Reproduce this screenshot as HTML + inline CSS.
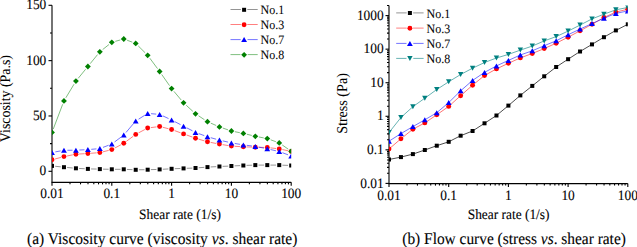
<!DOCTYPE html>
<html><head><meta charset="utf-8"><title>Viscosity and flow curves</title><style>
html,body{margin:0;padding:0;background:#fff;width:637px;height:247px;overflow:hidden}
</style></head><body>
<svg width="637" height="247" viewBox="0 0 637 247" style="display:block;font-family:'Liberation Serif',serif;text-rendering:geometricPrecision">
<defs>
<style>text{fill:#000;stroke:#000;stroke-width:0.1px;paint-order:stroke}</style>
<clipPath id="cl"><rect x="52.0" y="0" width="239.20000000000005" height="182.35"/></clipPath>
<clipPath id="cr"><rect x="389.0" y="5.497433345516788" width="238.79999999999995" height="178.1025666544832"/></clipPath>
</defs>
<line x1="52.0" y1="5.30" x2="52.0" y2="182.35" stroke="#000" stroke-width="1.1"/>
<line x1="51.5" y1="182.35" x2="291.20" y2="182.35" stroke="#000" stroke-width="1.1"/>
<line x1="48.5" y1="171.30" x2="52.0" y2="171.30" stroke="#000" stroke-width="1.1"/>
<text transform="translate(46.30,175.45) scale(1,1.065)" font-size="13.4" text-anchor="end">0</text>
<line x1="48.5" y1="115.97" x2="52.0" y2="115.97" stroke="#000" stroke-width="1.1"/>
<text transform="translate(46.30,120.12) scale(1,1.065)" font-size="13.4" text-anchor="end">50</text>
<line x1="48.5" y1="60.63" x2="52.0" y2="60.63" stroke="#000" stroke-width="1.1"/>
<text transform="translate(46.30,64.78) scale(1,1.065)" font-size="13.4" text-anchor="end">100</text>
<line x1="48.5" y1="5.30" x2="52.0" y2="5.30" stroke="#000" stroke-width="1.1"/>
<text transform="translate(46.30,9.45) scale(1,1.065)" font-size="13.4" text-anchor="end">150</text>
<line x1="50.0" y1="143.63" x2="52.0" y2="143.63" stroke="#000" stroke-width="1.1"/>
<line x1="50.0" y1="88.30" x2="52.0" y2="88.30" stroke="#000" stroke-width="1.1"/>
<line x1="50.0" y1="32.96" x2="52.0" y2="32.96" stroke="#000" stroke-width="1.1"/>
<line x1="52.00" y1="182.35" x2="52.00" y2="185.85" stroke="#000" stroke-width="1.1"/>
<line x1="70.00" y1="182.35" x2="70.00" y2="184.35" stroke="#000" stroke-width="1.1"/>
<line x1="80.53" y1="182.35" x2="80.53" y2="184.35" stroke="#000" stroke-width="1.1"/>
<line x1="88.00" y1="182.35" x2="88.00" y2="184.35" stroke="#000" stroke-width="1.1"/>
<line x1="93.80" y1="182.35" x2="93.80" y2="184.35" stroke="#000" stroke-width="1.1"/>
<line x1="98.53" y1="182.35" x2="98.53" y2="184.35" stroke="#000" stroke-width="1.1"/>
<line x1="102.54" y1="182.35" x2="102.54" y2="184.35" stroke="#000" stroke-width="1.1"/>
<line x1="106.00" y1="182.35" x2="106.00" y2="184.35" stroke="#000" stroke-width="1.1"/>
<line x1="109.06" y1="182.35" x2="109.06" y2="184.35" stroke="#000" stroke-width="1.1"/>
<line x1="111.80" y1="182.35" x2="111.80" y2="185.85" stroke="#000" stroke-width="1.1"/>
<line x1="129.80" y1="182.35" x2="129.80" y2="184.35" stroke="#000" stroke-width="1.1"/>
<line x1="140.33" y1="182.35" x2="140.33" y2="184.35" stroke="#000" stroke-width="1.1"/>
<line x1="147.80" y1="182.35" x2="147.80" y2="184.35" stroke="#000" stroke-width="1.1"/>
<line x1="153.60" y1="182.35" x2="153.60" y2="184.35" stroke="#000" stroke-width="1.1"/>
<line x1="158.33" y1="182.35" x2="158.33" y2="184.35" stroke="#000" stroke-width="1.1"/>
<line x1="162.34" y1="182.35" x2="162.34" y2="184.35" stroke="#000" stroke-width="1.1"/>
<line x1="165.80" y1="182.35" x2="165.80" y2="184.35" stroke="#000" stroke-width="1.1"/>
<line x1="168.86" y1="182.35" x2="168.86" y2="184.35" stroke="#000" stroke-width="1.1"/>
<line x1="171.60" y1="182.35" x2="171.60" y2="185.85" stroke="#000" stroke-width="1.1"/>
<line x1="189.60" y1="182.35" x2="189.60" y2="184.35" stroke="#000" stroke-width="1.1"/>
<line x1="200.13" y1="182.35" x2="200.13" y2="184.35" stroke="#000" stroke-width="1.1"/>
<line x1="207.60" y1="182.35" x2="207.60" y2="184.35" stroke="#000" stroke-width="1.1"/>
<line x1="213.40" y1="182.35" x2="213.40" y2="184.35" stroke="#000" stroke-width="1.1"/>
<line x1="218.13" y1="182.35" x2="218.13" y2="184.35" stroke="#000" stroke-width="1.1"/>
<line x1="222.14" y1="182.35" x2="222.14" y2="184.35" stroke="#000" stroke-width="1.1"/>
<line x1="225.60" y1="182.35" x2="225.60" y2="184.35" stroke="#000" stroke-width="1.1"/>
<line x1="228.66" y1="182.35" x2="228.66" y2="184.35" stroke="#000" stroke-width="1.1"/>
<line x1="231.40" y1="182.35" x2="231.40" y2="185.85" stroke="#000" stroke-width="1.1"/>
<line x1="249.40" y1="182.35" x2="249.40" y2="184.35" stroke="#000" stroke-width="1.1"/>
<line x1="259.93" y1="182.35" x2="259.93" y2="184.35" stroke="#000" stroke-width="1.1"/>
<line x1="267.40" y1="182.35" x2="267.40" y2="184.35" stroke="#000" stroke-width="1.1"/>
<line x1="273.20" y1="182.35" x2="273.20" y2="184.35" stroke="#000" stroke-width="1.1"/>
<line x1="277.93" y1="182.35" x2="277.93" y2="184.35" stroke="#000" stroke-width="1.1"/>
<line x1="281.94" y1="182.35" x2="281.94" y2="184.35" stroke="#000" stroke-width="1.1"/>
<line x1="285.40" y1="182.35" x2="285.40" y2="184.35" stroke="#000" stroke-width="1.1"/>
<line x1="288.46" y1="182.35" x2="288.46" y2="184.35" stroke="#000" stroke-width="1.1"/>
<line x1="291.20" y1="182.35" x2="291.20" y2="185.85" stroke="#000" stroke-width="1.1"/>
<text transform="translate(52.00,198.30) scale(1,1.065)" font-size="13.4" text-anchor="middle">0.01</text>
<text transform="translate(111.80,198.30) scale(1,1.065)" font-size="13.4" text-anchor="middle">0.1</text>
<text transform="translate(171.60,198.30) scale(1,1.065)" font-size="13.4" text-anchor="middle">1</text>
<text transform="translate(231.40,198.30) scale(1,1.065)" font-size="13.4" text-anchor="middle">10</text>
<text transform="translate(291.20,198.30) scale(1,1.065)" font-size="13.4" text-anchor="middle">100</text>
<text transform="translate(180.00,218.50) scale(1,1.065)" font-size="13.4" text-anchor="middle">Shear rate (1/s)</text>
<text transform="translate(10.00,98.60) rotate(-90) scale(1,1.065)" font-size="13.9" text-anchor="middle" style="stroke-width:0.05px">Viscosity (Pa.s)</text>
<g clip-path="url(#cl)">
<path d="M55.18,166.25L60.78,166.85M67.15,167.49L72.73,168.01M79.12,168.46L84.68,168.74M91.08,168.95L96.64,169.05M103.04,169.15L108.60,169.25M115.00,169.30L120.56,169.30M126.96,169.43L132.52,169.67M138.92,169.77L144.48,169.73M150.88,169.62L156.44,169.48M162.84,169.24L168.40,168.96M174.80,168.69L180.36,168.51M186.76,168.29L192.32,168.11M198.71,167.76L204.29,167.34M210.68,166.94L216.24,166.66M222.64,166.37L228.20,166.13M234.60,165.87L240.16,165.63M246.56,165.39L252.12,165.21M258.52,165.10L264.08,165.10M270.48,165.10L276.04,165.10M282.44,165.21L288.00,165.39" fill="none" stroke="#000" stroke-opacity="0.42" stroke-width="1"/>
<rect x="50.00" y="163.90" width="4.0" height="4.0" fill="#000"/>
<rect x="61.96" y="165.20" width="4.0" height="4.0" fill="#000"/>
<rect x="73.92" y="166.30" width="4.0" height="4.0" fill="#000"/>
<rect x="85.88" y="166.90" width="4.0" height="4.0" fill="#000"/>
<rect x="97.84" y="167.10" width="4.0" height="4.0" fill="#000"/>
<rect x="109.80" y="167.30" width="4.0" height="4.0" fill="#000"/>
<rect x="121.76" y="167.30" width="4.0" height="4.0" fill="#000"/>
<rect x="133.72" y="167.80" width="4.0" height="4.0" fill="#000"/>
<rect x="145.68" y="167.70" width="4.0" height="4.0" fill="#000"/>
<rect x="157.64" y="167.40" width="4.0" height="4.0" fill="#000"/>
<rect x="169.60" y="166.80" width="4.0" height="4.0" fill="#000"/>
<rect x="181.56" y="166.40" width="4.0" height="4.0" fill="#000"/>
<rect x="193.52" y="166.00" width="4.0" height="4.0" fill="#000"/>
<rect x="205.48" y="165.10" width="4.0" height="4.0" fill="#000"/>
<rect x="217.44" y="164.50" width="4.0" height="4.0" fill="#000"/>
<rect x="229.40" y="164.00" width="4.0" height="4.0" fill="#000"/>
<rect x="241.36" y="163.50" width="4.0" height="4.0" fill="#000"/>
<rect x="253.32" y="163.10" width="4.0" height="4.0" fill="#000"/>
<rect x="265.28" y="163.10" width="4.0" height="4.0" fill="#000"/>
<rect x="277.24" y="163.10" width="4.0" height="4.0" fill="#000"/>
<rect x="289.20" y="163.50" width="4.0" height="4.0" fill="#000"/>
</g>
<g clip-path="url(#cl)">
<path d="M55.09,158.97L60.87,157.43M67.10,155.97L72.78,154.83M79.11,154.01L84.69,153.69M91.07,153.26L96.65,152.84M102.94,151.82L108.70,150.38M114.63,148.11L120.93,144.79M126.33,141.39L133.15,136.31M138.54,132.89L144.86,129.51M150.86,127.60L156.46,126.90M162.74,127.28L168.50,128.72M174.60,130.60L180.56,132.80M186.57,134.98L192.51,137.12M198.58,139.12L204.42,140.88M210.62,142.40L216.30,143.50M222.60,144.63L228.24,145.57M234.59,146.29L240.17,146.61M246.56,146.91L252.12,147.09M258.52,147.28L264.08,147.42M270.46,147.87L276.06,148.53M282.37,149.55L288.07,150.75" fill="none" stroke="#ff0000" stroke-opacity="0.5" stroke-width="1"/>
<circle cx="52.00" cy="159.80" r="2.45" fill="#ff0000"/>
<circle cx="63.96" cy="156.60" r="2.45" fill="#ff0000"/>
<circle cx="75.92" cy="154.20" r="2.45" fill="#ff0000"/>
<circle cx="87.88" cy="153.50" r="2.45" fill="#ff0000"/>
<circle cx="99.84" cy="152.60" r="2.45" fill="#ff0000"/>
<circle cx="111.80" cy="149.60" r="2.45" fill="#ff0000"/>
<circle cx="123.76" cy="143.30" r="2.45" fill="#ff0000"/>
<circle cx="135.72" cy="134.40" r="2.45" fill="#ff0000"/>
<circle cx="147.68" cy="128.00" r="2.45" fill="#ff0000"/>
<circle cx="159.64" cy="126.50" r="2.45" fill="#ff0000"/>
<circle cx="171.60" cy="129.50" r="2.45" fill="#ff0000"/>
<circle cx="183.56" cy="133.90" r="2.45" fill="#ff0000"/>
<circle cx="195.52" cy="138.20" r="2.45" fill="#ff0000"/>
<circle cx="207.48" cy="141.80" r="2.45" fill="#ff0000"/>
<circle cx="219.44" cy="144.10" r="2.45" fill="#ff0000"/>
<circle cx="231.40" cy="146.10" r="2.45" fill="#ff0000"/>
<circle cx="243.36" cy="146.80" r="2.45" fill="#ff0000"/>
<circle cx="255.32" cy="147.20" r="2.45" fill="#ff0000"/>
<circle cx="267.28" cy="147.50" r="2.45" fill="#ff0000"/>
<circle cx="279.24" cy="148.90" r="2.45" fill="#ff0000"/>
<circle cx="291.20" cy="151.40" r="2.45" fill="#ff0000"/>
</g>
<g clip-path="url(#cl)">
<path d="M55.34,151.88L60.62,150.92M67.36,150.27L72.52,150.23M79.32,150.03L84.48,149.77M91.27,149.32L96.45,148.88M103.01,147.38L108.63,145.22M114.53,141.97L121.03,137.13M125.96,132.51L133.52,123.59M138.59,119.18L144.81,115.22M151.07,113.68L156.25,114.12M162.72,115.84L168.52,118.56M174.62,121.56L180.54,124.64M186.58,127.76L192.50,130.84M198.71,133.57L204.29,135.63M210.76,137.70L216.16,139.20M222.75,140.88L228.09,142.12M234.75,143.46L240.01,144.34M246.73,145.32L251.95,145.98M258.65,147.07L263.95,148.13M270.60,149.55L275.92,150.75M282.42,152.70L288.02,154.80" fill="none" stroke="#0000ff" stroke-opacity="0.55" stroke-width="1"/>
<path d="M52.00,150.00L54.90,155.00L49.10,155.00Z" fill="#0000ff"/>
<path d="M63.96,147.80L66.86,152.80L61.06,152.80Z" fill="#0000ff"/>
<path d="M75.92,147.70L78.82,152.70L73.02,152.70Z" fill="#0000ff"/>
<path d="M87.88,147.10L90.78,152.10L84.98,152.10Z" fill="#0000ff"/>
<path d="M99.84,146.10L102.74,151.10L96.94,151.10Z" fill="#0000ff"/>
<path d="M111.80,141.50L114.70,146.50L108.90,146.50Z" fill="#0000ff"/>
<path d="M123.76,132.60L126.66,137.60L120.86,137.60Z" fill="#0000ff"/>
<path d="M135.72,118.50L138.62,123.50L132.82,123.50Z" fill="#0000ff"/>
<path d="M147.68,110.90L150.58,115.90L144.78,115.90Z" fill="#0000ff"/>
<path d="M159.64,111.90L162.54,116.90L156.74,116.90Z" fill="#0000ff"/>
<path d="M171.60,117.50L174.50,122.50L168.70,122.50Z" fill="#0000ff"/>
<path d="M183.56,123.70L186.46,128.70L180.66,128.70Z" fill="#0000ff"/>
<path d="M195.52,129.90L198.42,134.90L192.62,134.90Z" fill="#0000ff"/>
<path d="M207.48,134.30L210.38,139.30L204.58,139.30Z" fill="#0000ff"/>
<path d="M219.44,137.60L222.34,142.60L216.54,142.60Z" fill="#0000ff"/>
<path d="M231.40,140.40L234.30,145.40L228.50,145.40Z" fill="#0000ff"/>
<path d="M243.36,142.40L246.26,147.40L240.46,147.40Z" fill="#0000ff"/>
<path d="M255.32,143.90L258.22,148.90L252.42,148.90Z" fill="#0000ff"/>
<path d="M267.28,146.30L270.18,151.30L264.38,151.30Z" fill="#0000ff"/>
<path d="M279.24,149.00L282.14,154.00L276.34,154.00Z" fill="#0000ff"/>
<path d="M291.20,153.50L294.10,158.50L288.30,158.50Z" fill="#0000ff"/>
</g>
<g clip-path="url(#cl)">
<path d="M53.28,129.03L62.68,104.27M65.82,97.82L74.06,84.18M78.20,78.32L85.60,69.28M90.15,63.71L97.57,54.59M102.66,49.56L108.98,44.54M115.27,41.34L120.29,39.96M127.14,40.24L132.34,42.16M138.27,45.94L145.13,52.76M149.82,58.20L157.50,68.60M161.70,74.45L169.54,85.65M173.92,91.35L181.24,100.05M186.21,105.24L192.87,111.36M198.52,115.78L204.48,119.72M210.78,123.14L216.14,125.46M222.85,128.07L227.99,129.83M234.93,131.71L239.83,132.69M246.86,134.25L251.82,135.45M258.86,136.98L263.74,137.92M270.67,139.82L275.85,141.68M282.20,144.95L288.24,149.15" fill="none" stroke="#008000" stroke-opacity="0.5" stroke-width="1"/>
<path d="M52.00,129.50L54.90,132.40L52.00,135.30L49.10,132.40Z" fill="#008000"/>
<path d="M63.96,98.00L66.86,100.90L63.96,103.80L61.06,100.90Z" fill="#008000"/>
<path d="M75.92,78.20L78.82,81.10L75.92,84.00L73.02,81.10Z" fill="#008000"/>
<path d="M87.88,63.60L90.78,66.50L87.88,69.40L84.98,66.50Z" fill="#008000"/>
<path d="M99.84,48.90L102.74,51.80L99.84,54.70L96.94,51.80Z" fill="#008000"/>
<path d="M111.80,39.40L114.70,42.30L111.80,45.20L108.90,42.30Z" fill="#008000"/>
<path d="M123.76,36.10L126.66,39.00L123.76,41.90L120.86,39.00Z" fill="#008000"/>
<path d="M135.72,40.50L138.62,43.40L135.72,46.30L132.82,43.40Z" fill="#008000"/>
<path d="M147.68,52.40L150.58,55.30L147.68,58.20L144.78,55.30Z" fill="#008000"/>
<path d="M159.64,68.60L162.54,71.50L159.64,74.40L156.74,71.50Z" fill="#008000"/>
<path d="M171.60,85.70L174.50,88.60L171.60,91.50L168.70,88.60Z" fill="#008000"/>
<path d="M183.56,99.90L186.46,102.80L183.56,105.70L180.66,102.80Z" fill="#008000"/>
<path d="M195.52,110.90L198.42,113.80L195.52,116.70L192.62,113.80Z" fill="#008000"/>
<path d="M207.48,118.80L210.38,121.70L207.48,124.60L204.58,121.70Z" fill="#008000"/>
<path d="M219.44,124.00L222.34,126.90L219.44,129.80L216.54,126.90Z" fill="#008000"/>
<path d="M231.40,128.10L234.30,131.00L231.40,133.90L228.50,131.00Z" fill="#008000"/>
<path d="M243.36,130.50L246.26,133.40L243.36,136.30L240.46,133.40Z" fill="#008000"/>
<path d="M255.32,133.40L258.22,136.30L255.32,139.20L252.42,136.30Z" fill="#008000"/>
<path d="M267.28,135.70L270.18,138.60L267.28,141.50L264.38,138.60Z" fill="#008000"/>
<path d="M279.24,140.00L282.14,142.90L279.24,145.80L276.34,142.90Z" fill="#008000"/>
<path d="M291.20,148.30L294.10,151.20L291.20,154.10L288.30,151.20Z" fill="#008000"/>
</g>
<line x1="389.0" y1="5.50" x2="389.0" y2="183.6" stroke="#000" stroke-width="1.1"/>
<line x1="388.5" y1="183.6" x2="627.80" y2="183.6" stroke="#000" stroke-width="1.1"/>
<line x1="385.5" y1="183.40" x2="389.0" y2="183.40" stroke="#000" stroke-width="1.1"/>
<line x1="387.0" y1="173.30" x2="389.0" y2="173.30" stroke="#000" stroke-width="1.1"/>
<line x1="387.0" y1="167.39" x2="389.0" y2="167.39" stroke="#000" stroke-width="1.1"/>
<line x1="387.0" y1="163.19" x2="389.0" y2="163.19" stroke="#000" stroke-width="1.1"/>
<line x1="387.0" y1="159.94" x2="389.0" y2="159.94" stroke="#000" stroke-width="1.1"/>
<line x1="387.0" y1="157.29" x2="389.0" y2="157.29" stroke="#000" stroke-width="1.1"/>
<line x1="387.0" y1="155.04" x2="389.0" y2="155.04" stroke="#000" stroke-width="1.1"/>
<line x1="387.0" y1="153.09" x2="389.0" y2="153.09" stroke="#000" stroke-width="1.1"/>
<line x1="387.0" y1="151.38" x2="389.0" y2="151.38" stroke="#000" stroke-width="1.1"/>
<line x1="385.5" y1="149.84" x2="389.0" y2="149.84" stroke="#000" stroke-width="1.1"/>
<line x1="387.0" y1="139.74" x2="389.0" y2="139.74" stroke="#000" stroke-width="1.1"/>
<line x1="387.0" y1="133.83" x2="389.0" y2="133.83" stroke="#000" stroke-width="1.1"/>
<line x1="387.0" y1="129.63" x2="389.0" y2="129.63" stroke="#000" stroke-width="1.1"/>
<line x1="387.0" y1="126.38" x2="389.0" y2="126.38" stroke="#000" stroke-width="1.1"/>
<line x1="387.0" y1="123.73" x2="389.0" y2="123.73" stroke="#000" stroke-width="1.1"/>
<line x1="387.0" y1="121.48" x2="389.0" y2="121.48" stroke="#000" stroke-width="1.1"/>
<line x1="387.0" y1="119.53" x2="389.0" y2="119.53" stroke="#000" stroke-width="1.1"/>
<line x1="387.0" y1="117.82" x2="389.0" y2="117.82" stroke="#000" stroke-width="1.1"/>
<line x1="385.5" y1="116.28" x2="389.0" y2="116.28" stroke="#000" stroke-width="1.1"/>
<line x1="387.0" y1="106.18" x2="389.0" y2="106.18" stroke="#000" stroke-width="1.1"/>
<line x1="387.0" y1="100.27" x2="389.0" y2="100.27" stroke="#000" stroke-width="1.1"/>
<line x1="387.0" y1="96.07" x2="389.0" y2="96.07" stroke="#000" stroke-width="1.1"/>
<line x1="387.0" y1="92.82" x2="389.0" y2="92.82" stroke="#000" stroke-width="1.1"/>
<line x1="387.0" y1="90.17" x2="389.0" y2="90.17" stroke="#000" stroke-width="1.1"/>
<line x1="387.0" y1="87.92" x2="389.0" y2="87.92" stroke="#000" stroke-width="1.1"/>
<line x1="387.0" y1="85.97" x2="389.0" y2="85.97" stroke="#000" stroke-width="1.1"/>
<line x1="387.0" y1="84.26" x2="389.0" y2="84.26" stroke="#000" stroke-width="1.1"/>
<line x1="385.5" y1="82.72" x2="389.0" y2="82.72" stroke="#000" stroke-width="1.1"/>
<line x1="387.0" y1="72.62" x2="389.0" y2="72.62" stroke="#000" stroke-width="1.1"/>
<line x1="387.0" y1="66.71" x2="389.0" y2="66.71" stroke="#000" stroke-width="1.1"/>
<line x1="387.0" y1="62.51" x2="389.0" y2="62.51" stroke="#000" stroke-width="1.1"/>
<line x1="387.0" y1="59.26" x2="389.0" y2="59.26" stroke="#000" stroke-width="1.1"/>
<line x1="387.0" y1="56.61" x2="389.0" y2="56.61" stroke="#000" stroke-width="1.1"/>
<line x1="387.0" y1="54.36" x2="389.0" y2="54.36" stroke="#000" stroke-width="1.1"/>
<line x1="387.0" y1="52.41" x2="389.0" y2="52.41" stroke="#000" stroke-width="1.1"/>
<line x1="387.0" y1="50.70" x2="389.0" y2="50.70" stroke="#000" stroke-width="1.1"/>
<line x1="385.5" y1="49.16" x2="389.0" y2="49.16" stroke="#000" stroke-width="1.1"/>
<line x1="387.0" y1="39.06" x2="389.0" y2="39.06" stroke="#000" stroke-width="1.1"/>
<line x1="387.0" y1="33.15" x2="389.0" y2="33.15" stroke="#000" stroke-width="1.1"/>
<line x1="387.0" y1="28.95" x2="389.0" y2="28.95" stroke="#000" stroke-width="1.1"/>
<line x1="387.0" y1="25.70" x2="389.0" y2="25.70" stroke="#000" stroke-width="1.1"/>
<line x1="387.0" y1="23.05" x2="389.0" y2="23.05" stroke="#000" stroke-width="1.1"/>
<line x1="387.0" y1="20.80" x2="389.0" y2="20.80" stroke="#000" stroke-width="1.1"/>
<line x1="387.0" y1="18.85" x2="389.0" y2="18.85" stroke="#000" stroke-width="1.1"/>
<line x1="387.0" y1="17.14" x2="389.0" y2="17.14" stroke="#000" stroke-width="1.1"/>
<line x1="385.5" y1="15.60" x2="389.0" y2="15.60" stroke="#000" stroke-width="1.1"/>
<line x1="387.0" y1="5.50" x2="389.0" y2="5.50" stroke="#000" stroke-width="1.1"/>
<text transform="translate(383.70,187.55) scale(1,1.065)" font-size="13.4" text-anchor="end">0.01</text>
<text transform="translate(383.70,153.99) scale(1,1.065)" font-size="13.4" text-anchor="end">0.1</text>
<text transform="translate(383.70,120.43) scale(1,1.065)" font-size="13.4" text-anchor="end">1</text>
<text transform="translate(383.70,86.87) scale(1,1.065)" font-size="13.4" text-anchor="end">10</text>
<text transform="translate(383.70,53.31) scale(1,1.065)" font-size="13.4" text-anchor="end">100</text>
<text transform="translate(383.70,19.75) scale(1,1.065)" font-size="13.4" text-anchor="end">1000</text>
<line x1="389.00" y1="183.6" x2="389.00" y2="187.1" stroke="#000" stroke-width="1.1"/>
<line x1="406.97" y1="183.6" x2="406.97" y2="185.6" stroke="#000" stroke-width="1.1"/>
<line x1="417.48" y1="183.6" x2="417.48" y2="185.6" stroke="#000" stroke-width="1.1"/>
<line x1="424.94" y1="183.6" x2="424.94" y2="185.6" stroke="#000" stroke-width="1.1"/>
<line x1="430.73" y1="183.6" x2="430.73" y2="185.6" stroke="#000" stroke-width="1.1"/>
<line x1="435.46" y1="183.6" x2="435.46" y2="185.6" stroke="#000" stroke-width="1.1"/>
<line x1="439.45" y1="183.6" x2="439.45" y2="185.6" stroke="#000" stroke-width="1.1"/>
<line x1="442.91" y1="183.6" x2="442.91" y2="185.6" stroke="#000" stroke-width="1.1"/>
<line x1="445.97" y1="183.6" x2="445.97" y2="185.6" stroke="#000" stroke-width="1.1"/>
<line x1="448.70" y1="183.6" x2="448.70" y2="187.1" stroke="#000" stroke-width="1.1"/>
<line x1="466.67" y1="183.6" x2="466.67" y2="185.6" stroke="#000" stroke-width="1.1"/>
<line x1="477.18" y1="183.6" x2="477.18" y2="185.6" stroke="#000" stroke-width="1.1"/>
<line x1="484.64" y1="183.6" x2="484.64" y2="185.6" stroke="#000" stroke-width="1.1"/>
<line x1="490.43" y1="183.6" x2="490.43" y2="185.6" stroke="#000" stroke-width="1.1"/>
<line x1="495.16" y1="183.6" x2="495.16" y2="185.6" stroke="#000" stroke-width="1.1"/>
<line x1="499.15" y1="183.6" x2="499.15" y2="185.6" stroke="#000" stroke-width="1.1"/>
<line x1="502.61" y1="183.6" x2="502.61" y2="185.6" stroke="#000" stroke-width="1.1"/>
<line x1="505.67" y1="183.6" x2="505.67" y2="185.6" stroke="#000" stroke-width="1.1"/>
<line x1="508.40" y1="183.6" x2="508.40" y2="187.1" stroke="#000" stroke-width="1.1"/>
<line x1="526.37" y1="183.6" x2="526.37" y2="185.6" stroke="#000" stroke-width="1.1"/>
<line x1="536.88" y1="183.6" x2="536.88" y2="185.6" stroke="#000" stroke-width="1.1"/>
<line x1="544.34" y1="183.6" x2="544.34" y2="185.6" stroke="#000" stroke-width="1.1"/>
<line x1="550.13" y1="183.6" x2="550.13" y2="185.6" stroke="#000" stroke-width="1.1"/>
<line x1="554.86" y1="183.6" x2="554.86" y2="185.6" stroke="#000" stroke-width="1.1"/>
<line x1="558.85" y1="183.6" x2="558.85" y2="185.6" stroke="#000" stroke-width="1.1"/>
<line x1="562.31" y1="183.6" x2="562.31" y2="185.6" stroke="#000" stroke-width="1.1"/>
<line x1="565.37" y1="183.6" x2="565.37" y2="185.6" stroke="#000" stroke-width="1.1"/>
<line x1="568.10" y1="183.6" x2="568.10" y2="187.1" stroke="#000" stroke-width="1.1"/>
<line x1="586.07" y1="183.6" x2="586.07" y2="185.6" stroke="#000" stroke-width="1.1"/>
<line x1="596.58" y1="183.6" x2="596.58" y2="185.6" stroke="#000" stroke-width="1.1"/>
<line x1="604.04" y1="183.6" x2="604.04" y2="185.6" stroke="#000" stroke-width="1.1"/>
<line x1="609.83" y1="183.6" x2="609.83" y2="185.6" stroke="#000" stroke-width="1.1"/>
<line x1="614.56" y1="183.6" x2="614.56" y2="185.6" stroke="#000" stroke-width="1.1"/>
<line x1="618.55" y1="183.6" x2="618.55" y2="185.6" stroke="#000" stroke-width="1.1"/>
<line x1="622.01" y1="183.6" x2="622.01" y2="185.6" stroke="#000" stroke-width="1.1"/>
<line x1="625.07" y1="183.6" x2="625.07" y2="185.6" stroke="#000" stroke-width="1.1"/>
<line x1="627.80" y1="183.6" x2="627.80" y2="187.1" stroke="#000" stroke-width="1.1"/>
<text transform="translate(389.00,199.60) scale(1,1.065)" font-size="13.4" text-anchor="middle">0.01</text>
<text transform="translate(448.70,199.60) scale(1,1.065)" font-size="13.4" text-anchor="middle">0.1</text>
<text transform="translate(508.40,199.60) scale(1,1.065)" font-size="13.4" text-anchor="middle">1</text>
<text transform="translate(568.10,199.60) scale(1,1.065)" font-size="13.4" text-anchor="middle">10</text>
<text transform="translate(627.80,199.60) scale(1,1.065)" font-size="13.4" text-anchor="middle">100</text>
<text transform="translate(508.60,218.50) scale(1,1.065)" font-size="13.4" text-anchor="middle">Shear rate (1/s)</text>
<text transform="translate(346.60,103.50) rotate(-90) scale(1,1.065)" font-size="14.1" text-anchor="middle" style="stroke-width:0.05px">Stress (Pa)</text>
<g clip-path="url(#cr)">
<path d="M389.49,159.40L400.45,157.20M401.42,156.98L412.40,154.22M413.35,153.94L424.35,150.16M425.29,149.83L436.29,145.87M437.24,145.54L448.22,141.96M449.15,141.57L460.19,135.93M461.11,135.52L472.11,131.18M473.00,130.73L484.10,123.57M484.94,123.03L496.04,115.77M496.84,115.18L508.02,105.92M508.78,105.28L519.96,95.72M520.73,95.09L531.89,86.21M532.67,85.59L543.83,76.61M544.61,75.99L555.77,67.31M556.58,66.73L567.68,59.47M568.52,58.93L579.62,51.77M580.47,51.24L591.55,44.66M592.41,44.14L603.49,37.46M604.35,36.95L615.43,30.65M616.31,30.17L627.35,24.53" fill="none" stroke="#000" stroke-opacity="0.7" stroke-width="1"/>
<rect x="387.00" y="157.50" width="4.0" height="4.0" fill="#000"/>
<rect x="398.94" y="155.10" width="4.0" height="4.0" fill="#000"/>
<rect x="410.88" y="152.10" width="4.0" height="4.0" fill="#000"/>
<rect x="422.82" y="148.00" width="4.0" height="4.0" fill="#000"/>
<rect x="434.76" y="143.70" width="4.0" height="4.0" fill="#000"/>
<rect x="446.70" y="139.80" width="4.0" height="4.0" fill="#000"/>
<rect x="458.64" y="133.70" width="4.0" height="4.0" fill="#000"/>
<rect x="470.58" y="129.00" width="4.0" height="4.0" fill="#000"/>
<rect x="482.52" y="121.30" width="4.0" height="4.0" fill="#000"/>
<rect x="494.46" y="113.50" width="4.0" height="4.0" fill="#000"/>
<rect x="506.40" y="103.60" width="4.0" height="4.0" fill="#000"/>
<rect x="518.34" y="93.40" width="4.0" height="4.0" fill="#000"/>
<rect x="530.28" y="83.90" width="4.0" height="4.0" fill="#000"/>
<rect x="542.22" y="74.30" width="4.0" height="4.0" fill="#000"/>
<rect x="554.16" y="65.00" width="4.0" height="4.0" fill="#000"/>
<rect x="566.10" y="57.20" width="4.0" height="4.0" fill="#000"/>
<rect x="578.04" y="49.50" width="4.0" height="4.0" fill="#000"/>
<rect x="589.98" y="42.40" width="4.0" height="4.0" fill="#000"/>
<rect x="601.92" y="35.20" width="4.0" height="4.0" fill="#000"/>
<rect x="613.86" y="28.40" width="4.0" height="4.0" fill="#000"/>
<rect x="625.80" y="22.30" width="4.0" height="4.0" fill="#000"/>
</g>
<g clip-path="url(#cr)">
<path d="M389.38,148.68L400.56,139.12M401.33,138.49L412.49,129.51M413.32,128.97L424.38,123.13M425.23,122.62L436.35,115.08M437.17,114.51L448.29,106.69M449.07,106.07L460.27,96.03M461.02,95.37L472.20,85.53M472.97,84.88L484.13,75.82M484.96,75.26L496.02,69.14M496.91,68.69L507.95,63.51M508.86,63.09L519.88,58.11M520.81,57.73L531.81,53.67M532.74,53.31L543.76,48.79M544.68,48.39L555.70,43.41M556.61,42.98L567.65,37.42M568.54,36.96L579.60,31.04M580.48,30.56L591.54,24.54M592.41,24.05L603.49,17.75M604.38,17.29L615.40,12.31M616.35,11.98L627.31,9.32" fill="none" stroke="#ff0000" stroke-opacity="0.55" stroke-width="1"/>
<circle cx="389.00" cy="149.00" r="2.45" fill="#ff0000"/>
<circle cx="400.94" cy="138.80" r="2.45" fill="#ff0000"/>
<circle cx="412.88" cy="129.20" r="2.45" fill="#ff0000"/>
<circle cx="424.82" cy="122.90" r="2.45" fill="#ff0000"/>
<circle cx="436.76" cy="114.80" r="2.45" fill="#ff0000"/>
<circle cx="448.70" cy="106.40" r="2.45" fill="#ff0000"/>
<circle cx="460.64" cy="95.70" r="2.45" fill="#ff0000"/>
<circle cx="472.58" cy="85.20" r="2.45" fill="#ff0000"/>
<circle cx="484.52" cy="75.50" r="2.45" fill="#ff0000"/>
<circle cx="496.46" cy="68.90" r="2.45" fill="#ff0000"/>
<circle cx="508.40" cy="63.30" r="2.45" fill="#ff0000"/>
<circle cx="520.34" cy="57.90" r="2.45" fill="#ff0000"/>
<circle cx="532.28" cy="53.50" r="2.45" fill="#ff0000"/>
<circle cx="544.22" cy="48.60" r="2.45" fill="#ff0000"/>
<circle cx="556.16" cy="43.20" r="2.45" fill="#ff0000"/>
<circle cx="568.10" cy="37.20" r="2.45" fill="#ff0000"/>
<circle cx="580.04" cy="30.80" r="2.45" fill="#ff0000"/>
<circle cx="591.98" cy="24.30" r="2.45" fill="#ff0000"/>
<circle cx="603.92" cy="17.50" r="2.45" fill="#ff0000"/>
<circle cx="615.86" cy="12.10" r="2.45" fill="#ff0000"/>
<circle cx="627.80" cy="9.20" r="2.45" fill="#ff0000"/>
</g>
<g clip-path="url(#cr)">
<path d="M389.42,140.93L400.52,133.87M401.37,133.35L412.45,126.85M413.31,126.35L424.39,120.05M425.25,119.54L436.33,112.96M437.14,112.38L448.32,102.92M449.06,102.25L460.28,91.15M461.02,90.47L472.20,80.73M473.00,80.12L484.10,72.68M484.96,72.16L496.02,66.14M496.91,65.69L507.95,60.61M508.86,60.19L519.88,55.21M520.81,54.83L531.81,50.97M532.74,50.60L543.76,45.90M544.68,45.51L555.70,40.99M556.61,40.57L567.65,34.93M568.55,34.49L579.59,29.31M580.49,28.89L591.53,23.81M592.44,23.39L603.46,18.41M604.38,18.01L615.40,13.59M616.35,13.30L627.31,11.00" fill="none" stroke="#0000ff" stroke-opacity="0.55" stroke-width="1"/>
<path d="M389.00,138.70L391.90,143.70L386.10,143.70Z" fill="#0000ff"/>
<path d="M400.94,131.10L403.84,136.10L398.04,136.10Z" fill="#0000ff"/>
<path d="M412.88,124.10L415.78,129.10L409.98,129.10Z" fill="#0000ff"/>
<path d="M424.82,117.30L427.72,122.30L421.92,122.30Z" fill="#0000ff"/>
<path d="M436.76,110.20L439.66,115.20L433.86,115.20Z" fill="#0000ff"/>
<path d="M448.70,100.10L451.60,105.10L445.80,105.10Z" fill="#0000ff"/>
<path d="M460.64,88.30L463.54,93.30L457.74,93.30Z" fill="#0000ff"/>
<path d="M472.58,77.90L475.48,82.90L469.68,82.90Z" fill="#0000ff"/>
<path d="M484.52,69.90L487.42,74.90L481.62,74.90Z" fill="#0000ff"/>
<path d="M496.46,63.40L499.36,68.40L493.56,68.40Z" fill="#0000ff"/>
<path d="M508.40,57.90L511.30,62.90L505.50,62.90Z" fill="#0000ff"/>
<path d="M520.34,52.50L523.24,57.50L517.44,57.50Z" fill="#0000ff"/>
<path d="M532.28,48.30L535.18,53.30L529.38,53.30Z" fill="#0000ff"/>
<path d="M544.22,43.20L547.12,48.20L541.32,48.20Z" fill="#0000ff"/>
<path d="M556.16,38.30L559.06,43.30L553.26,43.30Z" fill="#0000ff"/>
<path d="M568.10,32.20L571.00,37.20L565.20,37.20Z" fill="#0000ff"/>
<path d="M580.04,26.60L582.94,31.60L577.14,31.60Z" fill="#0000ff"/>
<path d="M591.98,21.10L594.88,26.10L589.08,26.10Z" fill="#0000ff"/>
<path d="M603.92,15.70L606.82,20.70L601.02,20.70Z" fill="#0000ff"/>
<path d="M615.86,10.90L618.76,15.90L612.96,15.90Z" fill="#0000ff"/>
<path d="M627.80,8.40L630.70,13.40L624.90,13.40Z" fill="#0000ff"/>
</g>
<g clip-path="url(#cr)">
<path d="M389.31,132.21L400.63,117.89M401.31,117.16L412.51,107.04M413.29,106.41L424.41,98.49M425.22,97.91L436.36,89.79M437.18,89.23L448.28,82.07M449.13,81.54L460.21,74.76M461.08,74.27L472.14,68.43M473.03,67.98L484.07,62.72M484.99,62.32L495.99,58.18M496.94,57.86L507.92,54.54M508.87,54.23L519.87,50.27M520.81,49.94L531.81,46.26M532.74,45.90L543.76,41.10M544.69,40.73L555.69,36.77M556.61,36.39L567.65,31.31M568.55,30.88L579.59,25.32M580.48,24.87L591.54,19.13M592.45,18.72L603.45,14.38M604.39,14.03L615.39,9.97M616.35,9.71L627.31,7.59" fill="none" stroke="#008080" stroke-opacity="0.6" stroke-width="1"/>
<path d="M389.00,135.10L391.70,130.10L386.30,130.10Z" fill="#008080"/>
<path d="M400.94,120.00L403.64,115.00L398.24,115.00Z" fill="#008080"/>
<path d="M412.88,109.20L415.58,104.20L410.18,104.20Z" fill="#008080"/>
<path d="M424.82,100.70L427.52,95.70L422.12,95.70Z" fill="#008080"/>
<path d="M436.76,92.00L439.46,87.00L434.06,87.00Z" fill="#008080"/>
<path d="M448.70,84.30L451.40,79.30L446.00,79.30Z" fill="#008080"/>
<path d="M460.64,77.00L463.34,72.00L457.94,72.00Z" fill="#008080"/>
<path d="M472.58,70.70L475.28,65.70L469.88,65.70Z" fill="#008080"/>
<path d="M484.52,65.00L487.22,60.00L481.82,60.00Z" fill="#008080"/>
<path d="M496.46,60.50L499.16,55.50L493.76,55.50Z" fill="#008080"/>
<path d="M508.40,56.90L511.10,51.90L505.70,51.90Z" fill="#008080"/>
<path d="M520.34,52.60L523.04,47.60L517.64,47.60Z" fill="#008080"/>
<path d="M532.28,48.60L534.98,43.60L529.58,43.60Z" fill="#008080"/>
<path d="M544.22,43.40L546.92,38.40L541.52,38.40Z" fill="#008080"/>
<path d="M556.16,39.10L558.86,34.10L553.46,34.10Z" fill="#008080"/>
<path d="M568.10,33.60L570.80,28.60L565.40,28.60Z" fill="#008080"/>
<path d="M580.04,27.60L582.74,22.60L577.34,22.60Z" fill="#008080"/>
<path d="M591.98,21.40L594.68,16.40L589.28,16.40Z" fill="#008080"/>
<path d="M603.92,16.70L606.62,11.70L601.22,11.70Z" fill="#008080"/>
<path d="M615.86,12.30L618.56,7.30L613.16,7.30Z" fill="#008080"/>
<path d="M627.80,10.00L630.50,5.00L625.10,5.00Z" fill="#008080"/>
</g>
<path d="M230.5,9.5H240.90M247.30,9.5H257.7" stroke="#000" stroke-opacity="0.42" stroke-width="1" fill="none"/>
<rect x="242.10" y="7.80" width="4.0" height="4.0" fill="#000"/>
<text transform="translate(260.60,13.80) scale(1,1.065)" font-size="12" style="stroke-width:0.05px">No.1</text>
<path d="M230.5,24.5H240.90M247.30,24.5H257.7" stroke="#ff0000" stroke-opacity="0.5" stroke-width="1" fill="none"/>
<circle cx="244.10" cy="24.80" r="2.45" fill="#ff0000"/>
<text transform="translate(260.60,28.60) scale(1,1.065)" font-size="12" style="stroke-width:0.05px">No.3</text>
<path d="M230.5,39.6H240.70M247.50,39.6H257.7" stroke="#0000ff" stroke-opacity="0.55" stroke-width="1" fill="none"/>
<path d="M244.10,37.10L247.00,42.10L241.20,42.10Z" fill="#0000ff"/>
<text transform="translate(260.60,44.00) scale(1,1.065)" font-size="12" style="stroke-width:0.05px">No.7</text>
<path d="M230.5,54.6H240.50M247.70,54.6H257.7" stroke="#008000" stroke-opacity="0.5" stroke-width="1" fill="none"/>
<path d="M244.10,51.90L247.00,54.80L244.10,57.70L241.20,54.80Z" fill="#008000"/>
<text transform="translate(260.60,58.60) scale(1,1.065)" font-size="12" style="stroke-width:0.05px">No.8</text>
<path d="M396.2,12.9H406.70M413.10,12.9H423.6" stroke="#000" stroke-opacity="0.42" stroke-width="1" fill="none"/>
<rect x="407.90" y="11.00" width="4.0" height="4.0" fill="#000"/>
<text transform="translate(426.60,17.90) scale(1,1.065)" font-size="12" style="stroke-width:0.05px">No.1</text>
<path d="M396.2,28.1H406.70M413.10,28.1H423.6" stroke="#ff0000" stroke-opacity="0.5" stroke-width="1" fill="none"/>
<circle cx="409.90" cy="28.20" r="2.45" fill="#ff0000"/>
<text transform="translate(426.60,32.90) scale(1,1.065)" font-size="12" style="stroke-width:0.05px">No.3</text>
<path d="M396.2,43.4H406.50M413.30,43.4H423.6" stroke="#0000ff" stroke-opacity="0.55" stroke-width="1" fill="none"/>
<path d="M409.90,41.00L412.80,46.00L407.00,46.00Z" fill="#0000ff"/>
<text transform="translate(426.60,47.90) scale(1,1.065)" font-size="12" style="stroke-width:0.05px">No.7</text>
<path d="M396.2,58.4H406.50M413.30,58.4H423.6" stroke="#008080" stroke-opacity="0.6" stroke-width="1" fill="none"/>
<path d="M409.90,60.90L412.60,55.90L407.20,55.90Z" fill="#008080"/>
<text transform="translate(426.60,62.50) scale(1,1.065)" font-size="12" style="stroke-width:0.05px">No.8</text>
<text transform="translate(27.00,243.70) scale(1,1.065)" font-size="15.5">(a) Viscosity curve (viscosity <tspan font-style="italic">vs</tspan>. shear rate)</text>
<text transform="translate(402.30,243.70) scale(1,1.065)" font-size="15.4">(b) Flow curve (stress <tspan font-style="italic">vs</tspan>. shear rate)</text>
</svg>
</body></html>
